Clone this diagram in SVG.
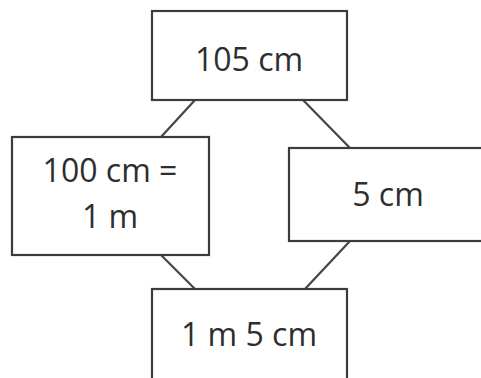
<svg xmlns="http://www.w3.org/2000/svg" width="481" height="378" viewBox="0 0 481 378">
  <style>
    .box { fill: #ffffff; stroke: #3c3c3c; stroke-width: 2.2; }
    .edge { stroke: #444444; stroke-width: 2.2; fill: none; }
    .label { font-family: "Open Sans", "Liberation Sans", sans-serif; font-size: 32px; font-weight: 500; fill: #2e2e2e; text-anchor: middle; }
  </style>
  <rect width="481" height="378" fill="#ffffff"/>
  <g id="connectors">
    <line class="edge" x1="195" y1="100" x2="161" y2="137"/>
    <line class="edge" x1="303" y1="100" x2="350" y2="148"/>
    <line class="edge" x1="161" y1="255" x2="195" y2="289"/>
    <line class="edge" x1="350" y1="241" x2="305" y2="289"/>
  </g>
  <g id="node-top">
    <rect class="box" x="152" y="11" width="195" height="89"/>
    <text class="label" x="249" y="71">105 cm</text>
  </g>
  <g id="node-left">
    <rect class="box" x="12" y="137" width="197" height="118"/>
    <text class="label" x="110" y="182">100 cm =</text>
    <text class="label" x="110" y="228">1 m</text>
  </g>
  <g id="node-right">
    <rect class="box" x="289" y="148" width="200" height="93"/>
    <text class="label" x="388" y="206">5 cm</text>
  </g>
  <g id="node-bottom">
    <rect class="box" x="152" y="289" width="195" height="100"/>
    <text class="label" x="249" y="346">1 m 5 cm</text>
  </g>
</svg>
